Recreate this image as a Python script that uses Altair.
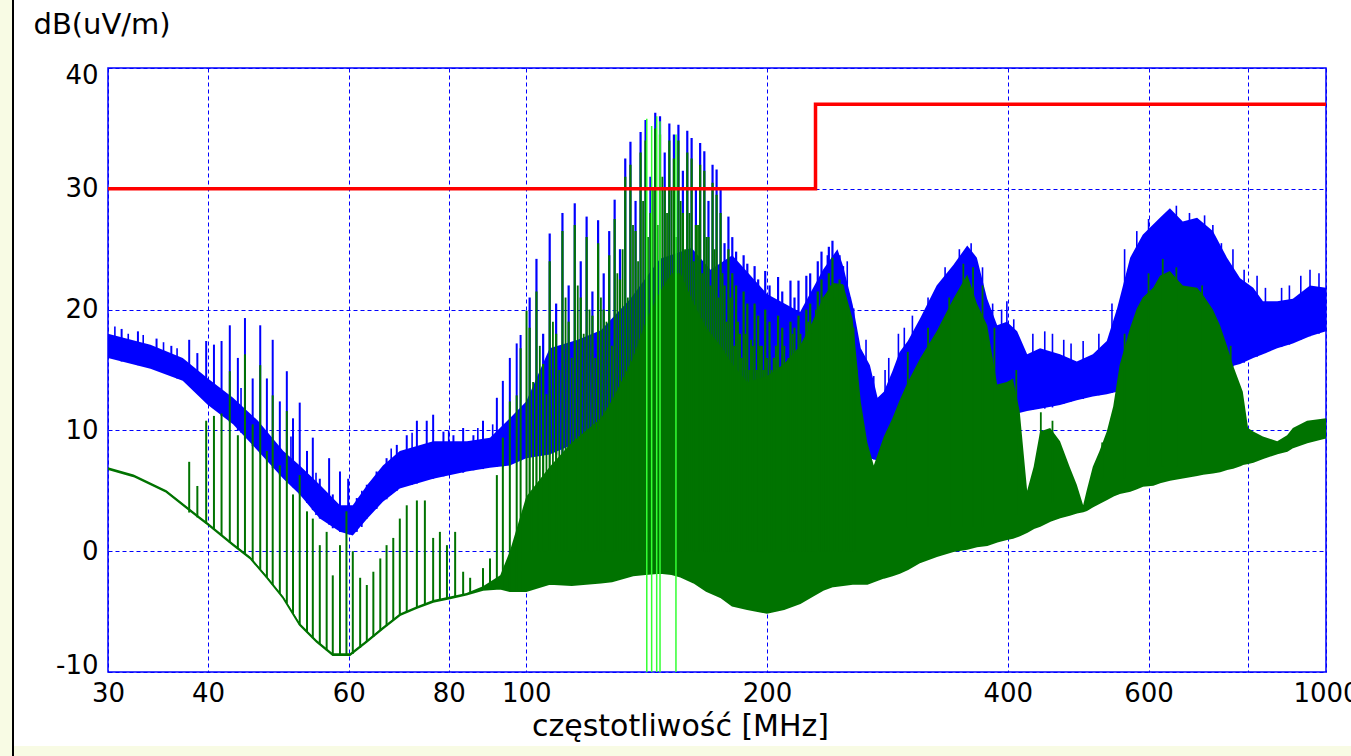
import altair as alt
import pandas as pd

# ---------------- data ----------------
X_TICKS = [30, 40, 60, 80, 100, 200, 400, 600, 800, 1000]
Y_TICKS = [-10, 0, 10, 20, 30, 40]

# blue trace: dense noise band (lower / upper edge)
BLUE_F = [30, 33.9, 37.2, 40, 43, 46.2, 49.7, 52.1, 55.2, 58.5,
          60.7, 63.3, 66.2, 69.5, 76.5, 84.3, 90.1, 95.4, 100, 107,
          116, 124, 135, 147, 161, 170, 181, 200, 220, 235,
          245, 249, 256, 262, 269, 275, 280, 287, 293, 300,
          311, 326, 342, 356, 366, 377, 388, 399, 411, 423,
          439, 465, 488, 511, 532, 548, 569, 590, 620, 638,
          662, 690, 722, 752, 781, 811, 834, 869, 909, 955, 1000]
BLUE_LO = [16.0, 15.1, 14.1, 12.1, 10.5, 8.3, 6.0, 4.7, 2.7, 1.6,
           1.3, 2.7, 4.1, 5.2, 6.0, 6.6, 6.9, 7.1, 7.7, 8.0,
           9.0, 9.5, 11.0, 12.0, 12.0, 11.0, 10.0, 9.0, 9.0, 10.0,
           11.0, 10.5, 9.0, 8.0, 7.7, 7.5, 8.0, 9.0, 9.9, 10.0,
           10.0, 10.5, 11.0, 11.0, 11.0, 11.0, 11.0, 11.2, 11.4, 11.6,
           11.8, 12.1, 12.5, 12.8, 13.0, 13.2, 13.5, 13.8, 14.0, 14.2,
           14.4, 14.6, 14.8, 15.2, 15.5, 16.0, 16.3, 16.8, 17.2, 17.8, 18.2]
BLUE_HI = [18.0, 17.1, 16.0, 14.3, 12.7, 10.8, 8.3, 7.1, 5.5, 3.8,
           3.8, 5.5, 7.1, 8.3, 9.1, 9.1, 9.4, 11.0, 12.4, 16.8,
           17.5, 18.3, 20.9, 24.2, 25.1, 23.3, 24.5, 21.3, 19.8, 23.3,
           25.0, 23.6, 20.4, 16.8, 15.4, 12.7, 13.2, 14.9, 16.5, 17.4,
           19.3, 22.0, 23.7, 25.3, 24.3, 20.9, 18.7, 19.0, 18.2, 16.3,
           16.8, 16.3, 15.7, 16.3, 17.4, 20.1, 24.3, 26.2, 27.6, 28.4,
           27.3, 27.6, 26.5, 24.3, 22.6, 21.8, 20.7, 20.7, 20.9, 22.0, 21.8]

# blue spikes 30-100 MHz
BSL_F = [31.2, 32.7, 34.5, 36.0, 37.9, 38.8, 39.8, 40.7, 41.6, 42.6,
         43.6, 44.5, 45.5, 46.5, 47.4, 48.2, 49.2, 50.2, 51.1, 52.1,
         53.2, 54.1, 55.2, 56.7, 57.3, 58.5, 59.9, 61.4, 63.2, 65.0,
         66.9, 68.9, 70.9, 73.0, 75.1, 76.5, 78.8, 81.1, 83.4, 85.9,
         88.3, 91.9, 93.5, 95.4, 97.3, 98.4]
BSL_BASE = [15.7, 15.4, 15.0, 14.5, 14.0, 13.5, 12.5, 11.8, 11.2, 10.7,
            10.0, 9.3, 8.7, 8.1, 7.5, 6.9, 6.3, 5.8, 5.3, 4.7,
            4.0, 3.4, 2.7, 2.2, 1.9, 1.6, 1.4, 1.6, 2.7, 3.5,
            4.3, 5.0, 5.4, 5.6, 5.9, 6.0, 6.2, 6.4, 6.5, 6.7,
            6.8, 7.0, 7.0, 7.1, 7.4, 7.5]
BSL_TOP = [18.4, 18.2, 17.6, 17.0, 17.5, 16.4, 17.4, 17.1, 17.4, 18.7,
           16.0, 19.3, 14.3, 18.7, 14.3, 17.5, 12.4, 14.9, 11.0, 12.3,
           8.3, 9.4, 6.0, 7.7, 4.7, 6.6, 6.0, 4.4, 5.5, 6.6,
           7.7, 8.8, 9.6, 10.8, 10.8, 11.3, 9.9, 9.6, 10.2, 9.6,
           10.8, 12.7, 14.1, 16.0, 17.2, 17.9]

# small blue noise spikes on the band
BN_F = [30.6, 31.8, 33.2, 35.2, 36.6, 44.0, 50.8, 54.6, 62.3, 67.8,
        72.0, 80.0, 87.0, 90.8,
        238, 252, 266, 272, 281, 284, 292, 297, 304, 318,
        334, 348, 360, 372, 383, 393, 399, 407, 430, 445,
        455, 470, 480, 497, 520, 540, 560, 580, 600, 650,
        675, 705, 722, 740, 765, 790, 820, 840, 880, 900,
        930, 955, 980]
BN_BASE = [16.3, 16.0, 15.5, 14.8, 14.3, 9.8, 5.5, 3.0, 2.0, 4.7,
           5.5, 6.3, 6.8, 7.0,
           10.5, 10.0, 7.8, 7.6, 8.0, 8.5, 9.9, 10.0, 10.0, 10.2,
           10.8, 11.0, 11.0, 11.0, 11.0, 11.1, 11.2, 11.3, 11.7, 11.8,
           11.9, 12.2, 12.4, 12.6, 12.9, 13.1, 13.4, 13.7, 13.9, 14.3,
           14.5, 14.7, 14.8, 15.0, 15.3, 15.6, 16.1, 16.4, 16.9, 17.1,
           17.5, 17.8, 18.0]
BN_TOP = [18.6, 18.0, 17.9, 17.3, 16.8, 13.5, 9.5, 6.5, 5.0, 8.5,
          9.8, 10.0, 10.2, 10.5,
          24.5, 24.0, 17.5, 14.5, 15.0, 16.0, 18.0, 18.5, 19.5, 21.0,
          23.5, 25.0, 25.5, 23.5, 20.5, 20.0, 20.7, 19.2, 18.0, 18.2,
          18.0, 17.5, 17.2, 17.4, 18.0, 20.5, 25.0, 26.5, 27.5, 28.6,
          28.0, 27.8, 27.0, 25.5, 25.0, 23.3, 22.8, 21.8, 21.8, 22.0,
          22.8, 23.3, 23.0]

# green trace: floor and top of the dense part
GREEN_F = [30, 32.3, 35.5, 39.1, 40, 43, 45.2, 47.4, 49.7, 52.1,
           54.7, 57.3, 60.2, 63.2, 66.2, 69.5, 73, 76.5, 80.3, 84.2,
           88.3, 92.8, 95.4, 100, 107, 114, 124, 128, 136, 141,
           147, 152, 156, 162, 168, 175, 181, 189, 200, 210,
           220, 228, 235, 242, 249, 256, 262, 267, 272, 280,
           287, 293, 300, 311, 326, 342, 356, 366, 377, 388,
           399, 406, 414, 423, 431, 439, 452, 465, 478, 488,
           497, 502, 511, 521, 532, 542, 552, 569, 580, 590,
           608, 620, 638, 662, 690, 702, 722, 737, 752, 765,
           781, 787, 799, 811, 834, 869, 894, 909, 947, 1000]
GREEN_LO = [6.8, 6.2, 4.9, 2.7, 2.2, 0.5, -0.6, -2.2, -3.9, -6.1,
            -7.5, -8.6, -8.6, -7.5, -6.4, -5.3, -4.7, -4.2, -3.9, -3.6,
            -3.2, -3.1, -3.3, -3.3, -2.7, -2.8, -2.6, -2.5, -2.0, -1.9,
            -1.8, -1.9, -2.1, -2.6, -3.3, -3.8, -4.5, -4.8, -5.1, -4.8,
            -4.3, -3.7, -3.2, -2.9, -2.8, -2.7, -2.7, -2.7, -2.5, -2.2,
            -2.0, -1.8, -1.5, -0.9, -0.4, 0.0, 0.2, 0.4, 0.5, 0.8,
            1.0, 1.1, 1.3, 1.6, 1.9, 2.1, 2.5, 2.8, 3.0, 3.2,
            3.3, 3.4, 3.7, 4.0, 4.3, 4.6, 4.8, 5.0, 5.2, 5.4,
            5.5, 5.7, 5.9, 6.1, 6.3, 6.4, 6.5, 6.6, 6.8, 6.9,
            7.1, 7.2, 7.3, 7.4, 7.7, 8.1, 8.3, 8.6, 9.0, 9.4]
GREEN_HI = [6.95, 6.35, 5.05, 2.85, 2.35, 0.65, -0.45, -2.05, -3.75, -5.95,
            -7.35, -8.45, -8.45, -7.35, -6.25, -5.15, -4.55, -4.05, -3.75, -3.45,
            -2.9, -2.0, 0.0, 4.5, 7.0, 9.0, 11.0, 12.5, 16.0, 19.0,
            21.5, 23.0, 23.0, 20.5, 18.5, 17.0, 15.5, 14.0, 14.5, 15.5,
            17.0, 19.0, 21.0, 22.2, 22.1, 19.2, 12.4, 9.0, 7.1, 9.5,
            11.0, 12.5, 14.0, 16.0, 18.2, 20.9, 22.9, 20.5, 18.7, 13.8,
            14.0, 14.3, 11.6, 5.0, 7.0, 9.9, 10.2, 9.1, 7.0, 5.5,
            3.8, 5.0, 7.0, 8.3, 9.9, 12.0, 15.4, 18.5, 20.1, 21.0,
            21.8, 22.8, 23.2, 22.0, 21.8, 21.2, 20.0, 18.7, 17.0, 15.4,
            13.8, 13.2, 10.2, 9.9, 9.5, 9.1, 9.6, 10.2, 10.8, 11.0]

# green spikes 30-100 MHz
GSL_F = [37.9, 38.8, 39.8, 40.7, 41.6, 42.6, 43.6, 44.5, 45.5, 46.5,
         47.4, 48.2, 49.2, 50.2, 51.1, 52.1, 53.2, 54.1, 55.2, 56.3,
         57.3, 58.5, 59.6, 60.7, 62.0, 63.2, 64.4, 65.7, 66.9, 68.2,
         69.5, 70.9, 73.0, 74.7, 76.5, 78.0, 79.6, 81.5, 83.4, 85.1,
         88.3, 90.1, 91.9, 93.5, 95.4, 97.3, 98.4, 100.1]
GSL_BASE = [3.2, 2.8, 2.3, 1.8, 1.3, 0.7, 0.2, -0.2, -0.8, -1.5,
            -2.2, -2.8, -3.5, -4.3, -5.2, -6.1, -6.7, -7.2, -7.7, -8.2,
            -8.6, -8.6, -8.6, -8.5, -8.0, -7.5, -7.1, -6.6, -6.2, -5.7,
            -5.3, -5.0, -4.7, -4.4, -4.2, -4.0, -3.9, -3.8, -3.6, -3.5,
            -3.2, -3.1, -3.1, -3.2, -3.3, -3.3, -3.3, -3.3]
GSL_TOP = [7.4, 5.4, 10.8, 11.2, 11.4, 14.9, 9.6, 16.3, 10.5, 15.4,
           8.3, 12.9, 7.1, 11.6, 4.7, 6.3, 3.3, 2.7, 0.5, 1.6,
           -2.0, 0.5, 3.3, 0.0, -2.2, -2.8, -1.7, -0.6, 0.5, 1.1,
           2.7, 3.8, 4.2, 4.2, 1.1, 1.6, 0.5, 1.6, -1.7, -2.2,
           -1.4, -0.6, 6.3, 9.4, 12.4, 12.9, 16.8, 19.9]

# harmonic spikes 100-260 MHz (blue tops and green tops)
MID_F = [101, 103, 105, 107, 109, 111, 113, 115, 117, 119,
         121, 123, 125, 127, 129, 131, 133, 135, 137, 139,
         141, 143, 145, 147, 149, 151, 153, 155, 157, 159,
         161, 163, 165, 167, 169, 171, 173, 175, 177, 179,
         181, 183, 185, 187, 189, 191, 193, 195, 197, 199,
         201.5, 204, 206.5, 209, 211.5, 214, 216.5, 219, 221.5, 224,
         226.5, 229, 231.5, 234, 236.5, 239, 241.5, 244, 246.5, 249,
         251.5, 254, 256.5, 259]
MID_BLUE = [21.0, 24.2, 18.0, 26.3, 20.5, 28.0, 22.0, 28.8, 24.0, 27.7,
            21.5, 27.4, 23.0, 26.5, 29.1, 25.0, 32.5, 33.9, 29.0, 34.7,
            35.7, 31.0, 36.3, 36.0, 33.0, 35.4, 34.5, 35.3, 31.5, 34.8,
            34.2, 30.0, 33.8, 33.1, 29.0, 32.0, 31.6, 30.1, 25.5, 27.7,
            26.0, 24.8, 21.0, 24.5, 23.8, 20.0, 23.6, 22.5, 19.5, 23.2,
            22.0, 18.5, 22.7, 21.5, 18.0, 22.4, 21.0, 22.4, 19.0, 22.8,
            23.0, 21.0, 24.0, 24.8, 22.5, 25.2, 25.7, 24.0, 24.5, 23.6,
            22.0, 21.0, 20.1, 17.5]
MID_GREEN = [18.5, 21.5, 15.5, 24.0, 18.0, 26.5, 19.0, 27.0, 21.0, 26.0,
             19.5, 25.5, 20.0, 24.5, 27.5, 22.5, 31.0, 32.0, 26.5, 33.0,
             34.0, 28.0, 35.0, 34.5, 30.0, 34.0, 32.5, 34.0, 28.0, 33.0,
             32.5, 27.0, 32.0, 31.5, 26.0, 30.5, 29.5, 28.0, 22.0, 25.0,
             23.0, 22.0, 18.0, 21.5, 20.5, 17.5, 20.5, 19.5, 17.0, 20.0,
             19.0, 16.0, 19.5, 18.5, 15.5, 19.0, 18.5, 19.5, 17.0, 20.0,
             20.5, 19.0, 21.5, 22.5, 20.5, 23.0, 24.3, 22.0, 22.5, 22.0,
             20.5, 19.5, 18.5, 15.0]

# shorter green spikes in between (100-260 MHz)
MID2_F = [102, 104, 106, 108, 110, 112, 114, 116, 118, 120,
          122, 124, 126, 128, 130, 132, 134, 136, 138, 140,
          142, 144, 146, 148, 150, 152, 154, 156, 158, 160,
          162, 164, 166, 168, 170, 172, 174, 176, 178, 180,
          182, 184, 186, 188, 190, 192, 194, 196, 198, 200,
          202.75, 205.25, 207.75, 210.25, 212.75, 215.25, 217.75, 220.25, 222.75, 225.25,
          227.75, 230.25, 232.75, 235.25, 237.75, 240.25, 242.75, 245.25, 247.75, 250.25,
          252.75, 255.25, 257.75]
MID2_GREEN = [14, 17, 13, 19, 15, 21, 16, 22, 18, 20,
              16, 21, 19, 17, 23, 25, 21, 27, 24, 29,
              26, 30, 27, 31, 28, 30, 26, 29, 25, 28,
              24, 27, 23, 26, 22, 25, 21, 23, 19, 21,
              17, 19, 16, 18, 15, 17, 15, 17, 15, 16,
              15, 17, 15, 17, 16, 18, 16, 18, 17, 19,
              18, 20, 19, 21, 20, 22, 21, 22, 21, 20,
              19, 18, 15]

# extra green spikes on the humps above 280 MHz
GN_F = [300, 318, 338, 352, 362, 372, 385, 410, 440, 455, 525, 560, 600, 625, 650, 700, 760]
GN_BASE = [2, 2, 2, 2, 2, 2, 3, 3, 4, 4, 6, 6, 7, 7, 7, 8, 8]
GN_TOP = [16.5, 18.5, 21.0, 23.8, 23.5, 22.0, 18.5, 15.0, 11.5, 10.8, 9.0, 18.0, 23.0, 24.2, 23.5, 22.0, 17.0]

# bright green lines
LIME_F = [141.5, 143.5, 145.6, 147.0, 153.9]
LIME_TOP = [35.8, 35.2, 36.0, 35.6, 34.5]

# limit line
LIMIT_F = [30, 230, 230, 1000]
LIMIT_V = [30, 30, 37, 37]

# ---------------- styling ----------------
FONT = "DejaVu Sans"
BLUE = "#0000FF"
GREEN = "#007300"
LIME = "#33FF33"
RED = "#FF0000"
BEIGE = "#F8FBE4"

xscale = alt.Scale(type="log", domain=[30, 1000], nice=False)
yscale = alt.Scale(domain=[-10, 40], nice=False, zero=False)

xaxis = alt.Axis(
    values=X_TICKS,
    labelExpr="datum.value == 800 ? '' : '' + datum.value",
    title="częstotliwość [MHz]",
    grid=True, gridColor=BLUE, gridDash=[4, 3], gridWidth=1, gridOpacity=1,
    ticks=False, domain=False,
    labelFont=FONT, labelFontSize=26, labelColor="#000000", labelPadding=8,
    labelFlush=False, labelOverlap=False,
    titleFont=FONT, titleFontSize=30, titleFontWeight="normal", titleColor="#000000",
    titleX=572, titleY=63, titleAlign="center", titleBaseline="alphabetic",
)
yaxis = alt.Axis(
    values=Y_TICKS,
    labelExpr="'' + datum.value",
    title="dB(uV/m)",
    grid=True, gridColor=BLUE, gridDash=[4, 3], gridWidth=1, gridOpacity=1,
    ticks=False, domain=False,
    labelFont=FONT, labelFontSize=26, labelColor="#000000", labelPadding=10,
    labelFlush=True, labelFlushOffset=6,
    titleFont=FONT, titleFontSize=29, titleFontWeight="normal", titleColor="#000000",
    titleAngle=0, titleX=-75, titleY=-35, titleAlign="left", titleBaseline="alphabetic",
)

X = alt.X("f:Q", scale=xscale, axis=xaxis)
Y = alt.Y("v:Q", scale=yscale, axis=yaxis)

blue_band = alt.Chart(pd.DataFrame({"f": BLUE_F, "v": BLUE_LO, "v2": BLUE_HI})).mark_area(
    color=BLUE, opacity=1, clip=True).encode(x=X, y=Y, y2="v2:Q")

blue_spk_low = alt.Chart(pd.DataFrame({"f": BSL_F, "v": BSL_TOP, "v2": BSL_BASE})).mark_rule(
    color=BLUE, strokeWidth=2, clip=True).encode(x=X, y=Y, y2="v2:Q")

blue_noise = alt.Chart(pd.DataFrame({"f": BN_F, "v": BN_TOP, "v2": BN_BASE})).mark_rule(
    color=BLUE, strokeWidth=1.6, clip=True).encode(x=X, y=Y, y2="v2:Q")

blue_spk_mid = alt.Chart(pd.DataFrame({"f": MID_F, "v": MID_BLUE})).mark_rule(
    color=BLUE, strokeWidth=2.2, clip=True).encode(x=X, y=Y, y2=alt.datum(8))

green_band = alt.Chart(pd.DataFrame({"f": GREEN_F, "v": GREEN_LO, "v2": GREEN_HI})).mark_area(
    color=GREEN, opacity=1, clip=True).encode(x=X, y=Y, y2="v2:Q")

green_floor = alt.Chart(pd.DataFrame({"f": GREEN_F, "v": GREEN_LO})).mark_line(
    color=GREEN, strokeWidth=1.8, clip=True).encode(x=X, y=Y)

green_spk_low = alt.Chart(pd.DataFrame({"f": GSL_F, "v": GSL_TOP, "v2": GSL_BASE})).mark_rule(
    color=GREEN, strokeWidth=2, clip=True).encode(x=X, y=Y, y2="v2:Q")

green_spk_mid = alt.Chart(pd.DataFrame({"f": MID_F, "v": MID_GREEN})).mark_rule(
    color=GREEN, strokeWidth=2.2, clip=True).encode(x=X, y=Y, y2=alt.datum(0))

green_spk_mid2 = alt.Chart(pd.DataFrame({"f": MID2_F, "v": MID2_GREEN})).mark_rule(
    color=GREEN, strokeWidth=1.8, clip=True).encode(x=X, y=Y, y2=alt.datum(0))

green_noise = alt.Chart(pd.DataFrame({"f": GN_F, "v": GN_TOP, "v2": GN_BASE})).mark_rule(
    color=GREEN, strokeWidth=1.8, clip=True).encode(x=X, y=Y, y2="v2:Q")

lime = alt.Chart(pd.DataFrame({"f": LIME_F, "v": LIME_TOP})).mark_rule(
    color=LIME, strokeWidth=1.5, clip=True).encode(x=X, y=Y, y2=alt.datum(-10))

limit = alt.Chart(pd.DataFrame({"f": LIMIT_F, "v": LIMIT_V, "i": list(range(len(LIMIT_F)))})).mark_line(
    color=RED, strokeWidth=3.5, clip=True).encode(x=X, y=Y, order="i:Q")

deco = pd.DataFrame({"k": [0]})
left_strip = alt.Chart(deco).mark_rect(color=BEIGE).encode(
    x=alt.value(-108), x2=alt.value(-96), y=alt.value(-68), y2=alt.value(688))
left_line = alt.Chart(deco).mark_rect(color="#000000").encode(
    x=alt.value(-96), x2=alt.value(-94), y=alt.value(-68), y2=alt.value(688))
bottom_strip = alt.Chart(deco).mark_rect(color=BEIGE).encode(
    x=alt.value(-94), x2=alt.value(1243), y=alt.value(678), y2=alt.value(688))

chart = alt.layer(
    blue_band, blue_spk_low, blue_noise, blue_spk_mid,
    green_band, green_floor, green_spk_low, green_spk_mid, green_spk_mid2, green_noise,
    lime, limit, left_strip, left_line, bottom_strip,
).properties(
    width=1218, height=604,
    autosize=alt.AutoSizeParams(type="none"),
    padding={"left": 108, "top": 68, "right": 25, "bottom": 84},
).configure(
    background="white",
).configure_view(
    stroke=BLUE, strokeWidth=1.5,
)

chart.save("out.html", embed_options={"renderer": "svg", "actions": False})
